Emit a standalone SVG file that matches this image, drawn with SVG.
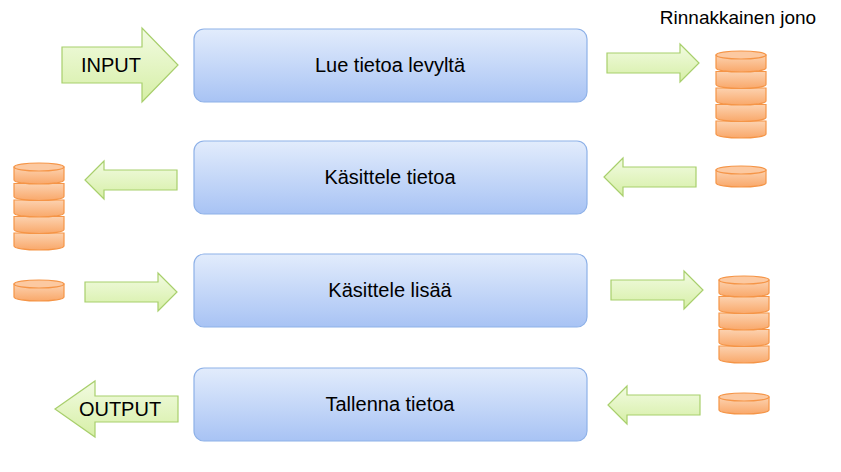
<svg xmlns="http://www.w3.org/2000/svg" xmlns:xlink="http://www.w3.org/1999/xlink" width="841" height="472" viewBox="0 0 841 472">
<defs>
<linearGradient id="gb" x1="0" y1="0" x2="0" y2="1"><stop offset="0" stop-color="#e2ecfc"/><stop offset="1" stop-color="#a8c3f4"/></linearGradient>
<linearGradient id="ga" x1="0" y1="0" x2="0" y2="1"><stop offset="0" stop-color="#f2fbe2"/><stop offset="1" stop-color="#d6efa6"/></linearGradient>
<linearGradient id="go" x1="0" y1="0" x2="0" y2="1"><stop offset="0" stop-color="#fcd2b0"/><stop offset="1" stop-color="#f9a86a"/></linearGradient>
<g id="seg"><path d="M0,4 V17 A25,4 0 0 0 50,17 V4 Z" fill="url(#go)" stroke="#f59547" stroke-width="1.2"/><ellipse cx="25" cy="4" rx="25" ry="4" fill="#fcc9a1" stroke="#f59547" stroke-width="1.2"/></g>
<g id="segm"><path d="M0,4 V17 A25,4 0 0 0 50,17 V4 Z" fill="url(#go)" stroke="#f59547" stroke-width="1.2"/></g>
<g id="stack"><use xlink:href="#segm" y="66"/><use xlink:href="#segm" y="49.5"/><use xlink:href="#segm" y="33"/><use xlink:href="#segm" y="16.5"/><use xlink:href="#seg" y="0"/></g>
<path id="ar" d="M0,-10 H73 V-19 L92,0 L73,19 V10 H0 Z"/>
</defs>
<style>
.box{fill:url(#gb);stroke:#8eb1e8;stroke-width:1.2}
.arr{fill:url(#ga);stroke:#a8cf6c;stroke-width:1.2}
text{font-family:"Liberation Sans",Arial,sans-serif;fill:#000}
.t{font-size:20px;text-anchor:middle}
</style>
<text x="738" y="24" font-size="19" text-anchor="middle">Rinnakkainen jono</text>
<g id="n1"><rect class="box" x="194" y="29" width="393" height="73" rx="10"/><text class="t" x="390" y="72">Lue tietoa levyltä</text></g>
<g id="n2"><rect class="box" x="194" y="141" width="393" height="73" rx="10"/><text class="t" x="390" y="184">Käsittele tietoa</text></g>
<g id="n3"><rect class="box" x="194" y="254" width="393" height="73" rx="10"/><text class="t" x="390" y="297">Käsittele lisää</text></g>
<g id="n4"><rect class="box" x="194" y="368" width="393" height="73" rx="10"/><text class="t" x="390" y="411">Tallenna tietoa</text></g>
<g id="input"><path class="arr" d="M62,47 H142 V28 L178,65 L142,102 V83 H62 Z"/><text class="t" x="111" y="72">INPUT</text></g>
<g id="output"><path class="arr" d="M178,396 H95 V381 L55,409 L95,437 V422 H178 Z"/><text class="t" x="120" y="416">OUTPUT</text></g>
<g id="connectors">
<use xlink:href="#ar" class="arr" transform="translate(607,63)"/>
<use xlink:href="#ar" class="arr" transform="translate(696,177) scale(-1,1)"/>
<use xlink:href="#ar" class="arr" transform="translate(177,180) scale(-1,1)"/>
<use xlink:href="#ar" class="arr" transform="translate(85,292)"/>
<use xlink:href="#ar" class="arr" transform="translate(611,290)"/>
<use xlink:href="#ar" class="arr" transform="translate(700,405) scale(-1,1)"/>
</g>
<g id="q1"><use xlink:href="#stack" x="716" y="51"/></g>
<g id="q2"><use xlink:href="#seg" x="716" y="166"/></g>
<g id="q3"><use xlink:href="#stack" x="14" y="163"/></g>
<g id="q4"><use xlink:href="#seg" x="14" y="280"/></g>
<g id="q5"><use xlink:href="#stack" x="719" y="276"/></g>
<g id="q6"><use xlink:href="#seg" x="719" y="393"/></g>
</svg>
